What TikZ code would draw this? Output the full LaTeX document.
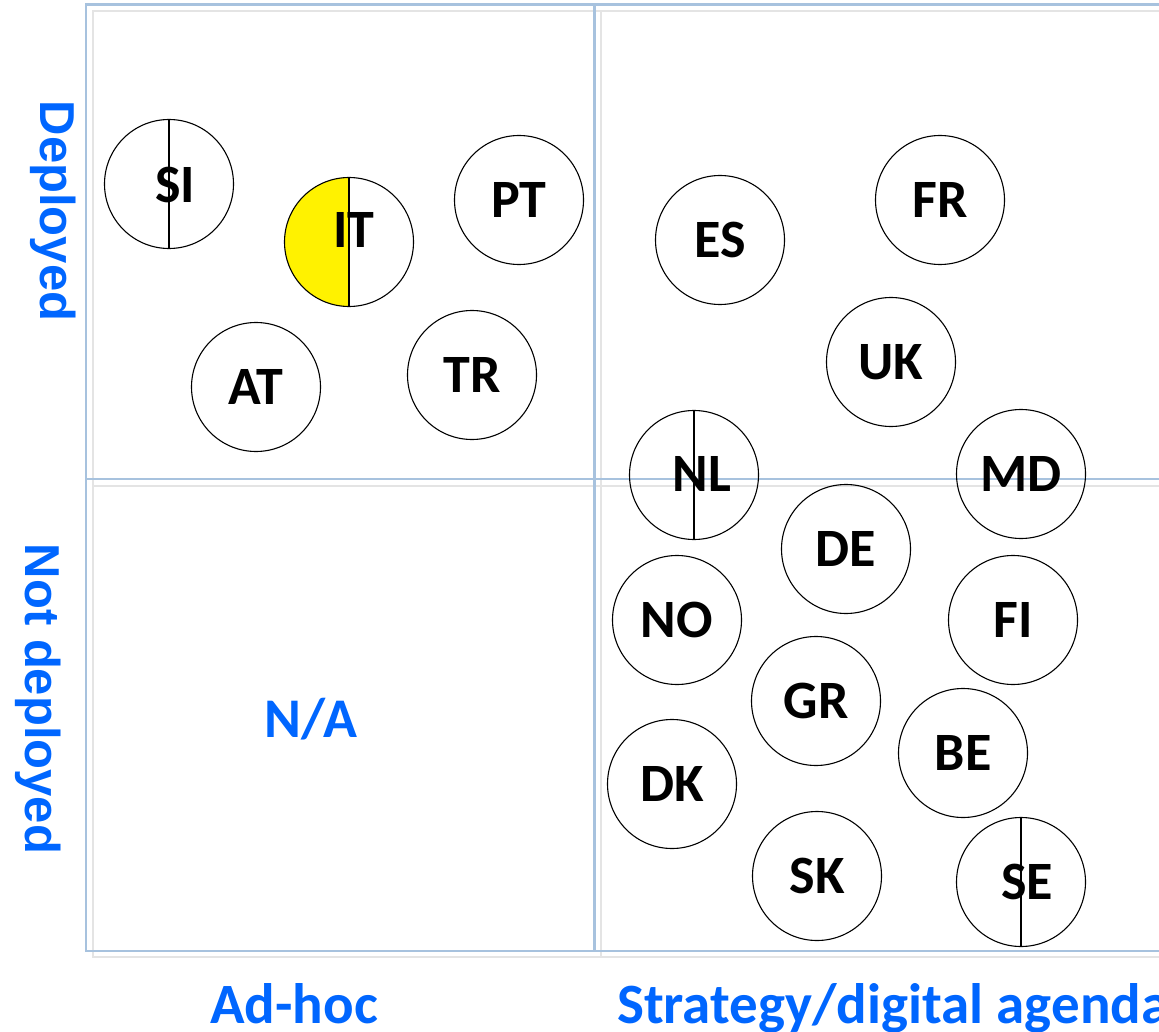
\documentclass[tikz,border=0pt]{standalone}
\usepackage{fontspec}
\usepackage{tikz}
\newfontfamily\calfont{Carlito}
\newfontfamily\arialfont{Liberation Sans}
\usepackage{xcolor}
\definecolor{axisblue}{RGB}{0,102,255}
\definecolor{gridblue}{RGB}{167,194,222}
\definecolor{gridgrey}{RGB}{228,228,228}

\begin{document}
\begin{tikzpicture}[x=1pt,y=-1pt]
\tikzstyle{country}=[circle,draw=black,line width=1.1pt,minimum size=129pt,inner sep=0pt,font=\calfont\bfseries\fontsize{54}{54}\selectfont,text height=35pt,text depth=0pt]
\tikzstyle{tag}=[inner sep=0pt,font=\calfont\bfseries\fontsize{54}{54}\selectfont,text height=35pt,text depth=0pt]
\tikzstyle{split}=[path picture={\draw[line width=1.1pt] (path picture bounding box.north) -- (path picture bounding box.south);}]
\tikzstyle{halfyellow}=[path picture={\fill[yellow] (path picture bounding box.north west) rectangle (path picture bounding box.south);
  \draw[line width=1.1pt] (path picture bounding box.north) -- (path picture bounding box.south);}]
\tikzstyle{axis}=[text=axisblue,inner sep=0pt,font=\calfont\bfseries\fontsize{57}{57}\selectfont]
\tikzstyle{side}=[text=axisblue,inner sep=0pt,rotate=-90,font=\arialfont\bfseries\fontsize{49}{49}\selectfont]

\useasboundingbox (0,0) rectangle (1159,1032);

% quadrants
\draw[gridgrey,line width=2.5pt] (93,11) rectangle (1200,957) (601,11) -- (601,957) (93,486) -- (1200,486);
\draw[gridblue,line width=2.5pt] (86,4.5) rectangle (1200,951) (594.5,4.5) -- (594.5,951) (86,479) -- (1200,479);

% deployed, ad-hoc
\node[country,split]      (SI) at (169,184) {};
\node[tag]                (SIlabel) at (175,185) {SI};
\node[country,halfyellow] (IT) at (349,242) {};
\node[tag]                (ITlabel) at (354,230) {IT};
\node[country]            (PT) at (519,200) {PT};
\node[country]            (AT) at (256,387) {AT};
\node[country]            (TR) at (472,375) {TR};

% deployed, strategy
\node[country]            (ES) at (720,240) {ES};
\node[country]            (FR) at (940,200) {FR};
\node[country]            (UK) at (891,362) {UK};
\node[country,split]      (NL) at (694,475) {};
\node[tag]                (NLlabel) at (702,474) {NL};
\node[country]            (MD) at (1021,474) {MD};

% not deployed, strategy
\node[country]            (DE) at (846,549) {DE};
\node[country]            (NO) at (677,620) {NO};
\node[country]            (FI) at (1013,620) {FI};
\node[country]            (GR) at (816,701) {GR};
\node[country]            (BE) at (963,753) {BE};
\node[country]            (DK) at (672,784) {DK};
\node[country]            (SK) at (817,876) {SK};
\node[country,split]      (SE) at (1021,882) {};
\node[tag]                (SElabel) at (1027,882) {SE};

\node[axis,anchor=base,font=\calfont\bfseries\fontsize{56}{56}\selectfont] (na) at (311,737) {N/A};

% axes
\node[side] (deployed)    at (53,211) {Deployed};
\node[side] (notdeployed) at (38,699) {Not deployed};
\node[axis,anchor=base]      (adhoc)    at (294,1023) {Ad-hoc};
\node[axis,anchor=base west] (strategy) at (617,1023) {Strategy/digital agenda};
\end{tikzpicture}
\end{document}
